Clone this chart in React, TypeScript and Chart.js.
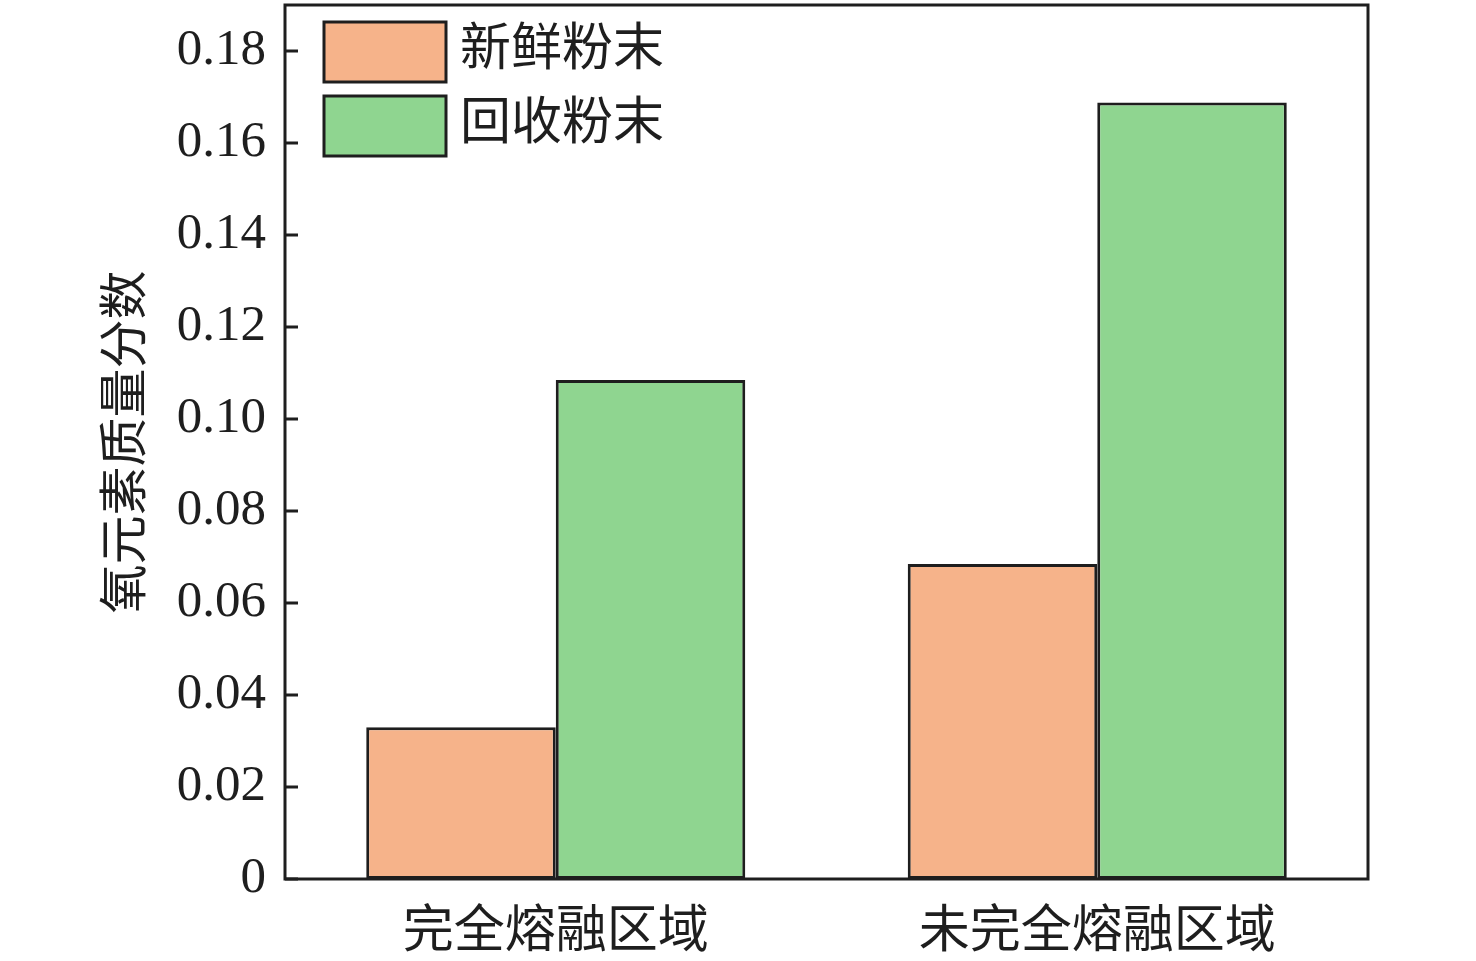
import { useEffect, useRef } from "react";
import { Chart, registerables } from "chart.js";

Chart.register(...registerables);

const categories = ["完全熔融区域", "未完全熔融区域"];
const seriesNames = ["新鲜粉末", "回收粉末"];
const freshValues = [0.033, 0.0685];
const recycledValues = [0.1085, 0.1688];
const yTicks = [0, 0.02, 0.04, 0.06, 0.08, 0.1, 0.12, 0.14, 0.16, 0.18];

const FONT = "'Liberation Serif', 'Noto Sans CJK SC', serif";
const INK = "#1e1e1e";

// frame, inner tick marks and the in-plot legend
const decor = {
  id: "decor",
  afterDraw(chart: any) {
    const { ctx, chartArea: a } = chart;
    const y = chart.scales.y;
    ctx.save();
    ctx.strokeStyle = INK;
    ctx.lineWidth = 3;
    ctx.beginPath();
    yTicks.forEach((v) => {
      const py = y.getPixelForValue(v);
      ctx.moveTo(a.left, py);
      ctx.lineTo(a.left + 13, py);
    });
    ctx.stroke();
    ctx.strokeRect(a.left, a.top, a.right - a.left, a.bottom - a.top);

    chart.data.datasets.forEach((ds: any, i: number) => {
      const bx = a.left + 39;
      const by = a.top + 17 + i * 74;
      ctx.fillStyle = ds.backgroundColor;
      ctx.fillRect(bx, by, 122, 60);
      ctx.lineWidth = 3;
      ctx.strokeRect(bx, by, 122, 60);
      ctx.fillStyle = INK;
      ctx.font = `51px ${FONT}`;
      ctx.textBaseline = "middle";
      ctx.textAlign = "left";
      ctx.fillText(ds.label, bx + 136, by + 30);
    });
    ctx.restore();
  },
};

export default function App() {
  const canvasRef = useRef<HTMLCanvasElement | null>(null);
  const chartRef = useRef<Chart | null>(null);

  useEffect(() => {
    document.body.style.margin = "0";
    if (!canvasRef.current) return;
    if (chartRef.current) chartRef.current.destroy();
    chartRef.current = new Chart(canvasRef.current, {
      type: "bar",
      data: {
        labels: categories,
        datasets: [
          {
            label: seriesNames[0],
            data: freshValues,
            backgroundColor: "#F6B38A",
            borderColor: INK,
            borderWidth: 3,
            borderSkipped: false,
          },
          {
            label: seriesNames[1],
            data: recycledValues,
            backgroundColor: "#8FD590",
            borderColor: INK,
            borderWidth: 3,
            borderSkipped: false,
          },
        ],
      },
      options: {
        animation: false,
        responsive: true,
        maintainAspectRatio: false,
        layout: { padding: { left: 95, right: 108, top: 5, bottom: 0 } },
        datasets: { bar: { categoryPercentage: 0.7, barPercentage: 1 } },
        plugins: { legend: { display: false }, tooltip: { enabled: false } },
        scales: {
          x: {
            grid: { display: false },
            border: { display: false },
            ticks: { color: INK, font: { family: FONT, size: 51 }, padding: 16 },
            afterFit: (s: any) => {
              s.height = 82;
              s.paddingLeft = 0;
              s.paddingRight = 0;
            },
          },
          y: {
            min: 0,
            max: 0.19,
            grid: { display: false },
            border: { display: false },
            afterBuildTicks: (s: any) => {
              s.ticks = yTicks.map((v) => ({ value: v }));
            },
            ticks: {
              color: INK,
              font: { family: FONT, size: 51 },
              padding: 11,
              callback: (v: any) => (Number(v) === 0 ? "0" : Number(v).toFixed(2)),
            },
            title: {
              display: true,
              text: "氧元素质量分数",
              color: INK,
              font: { family: FONT, size: 49 },
            },
            afterFit: (s: any) => {
              s.width = 190;
              s.paddingTop = 0;
              s.paddingBottom = 0;
            },
          },
        },
      },
      plugins: [decor],
    });
    return () => {
      if (chartRef.current) chartRef.current.destroy();
    };
  }, []);

  return (
    <div style={{ width: "1476px", height: "961px", background: "#fff" }}>
      <canvas ref={canvasRef}></canvas>
    </div>
  );
}
